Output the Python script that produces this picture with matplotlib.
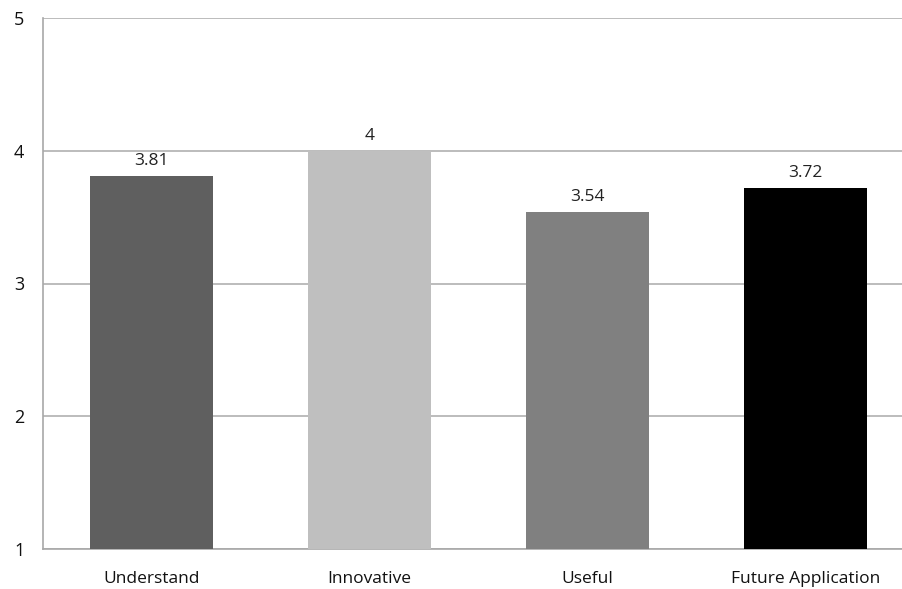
import matplotlib.pyplot as plt

categories = ["Understand", "Innovative", "Useful", "Future Application"]
scores = [3.81, 4, 3.54, 3.72]
score_labels = ["3.81", "4", "3.54", "3.72"]
bar_colors = ["#5f5f5f", "#bfbfbf", "#808080", "#000000"]
y_ticks = [1, 2, 3, 4, 5]

plt.rcParams['font.family'] = ['Open Sans', 'DejaVu Sans']

fig = plt.figure(figsize=(9.02, 5.89), dpi=100)
ax = fig.add_axes([42.5 / 902, 40 / 589, 872 / 902, 531 / 589])

x = list(range(len(categories)))
# bars start at the axis floor (1), like the original spreadsheet chart
heights = [s - 1 for s in scores]
ax.bar(x, heights, bottom=1, width=0.565, color=bar_colors, zorder=3)

for i in x:
    ax.text(i, scores[i] + 0.05, score_labels[i], ha="center", va="bottom",
            fontsize=12.5, color="#222222")

ax.set_xlim(-0.5, 3.5)
ax.set_ylim(1, 5)
ax.set_yticks(y_ticks)
ax.set_xticks(x)
ax.set_xticklabels(categories, fontsize=12.5, color="#111111")
ax.tick_params(axis="y", length=0, pad=13, labelsize=13, labelcolor="#111111")
ax.tick_params(axis="x", length=0, pad=16)
ax.yaxis.grid(True, color="#b0b0b0", linewidth=1.2, zorder=0)

for side in ["top", "right"]:
    ax.spines[side].set_visible(False)
for side in ["left", "bottom"]:
    ax.spines[side].set_color("#a8a8a8")
    ax.spines[side].set_linewidth(1.2)

plt.savefig("out.png", dpi=100)
